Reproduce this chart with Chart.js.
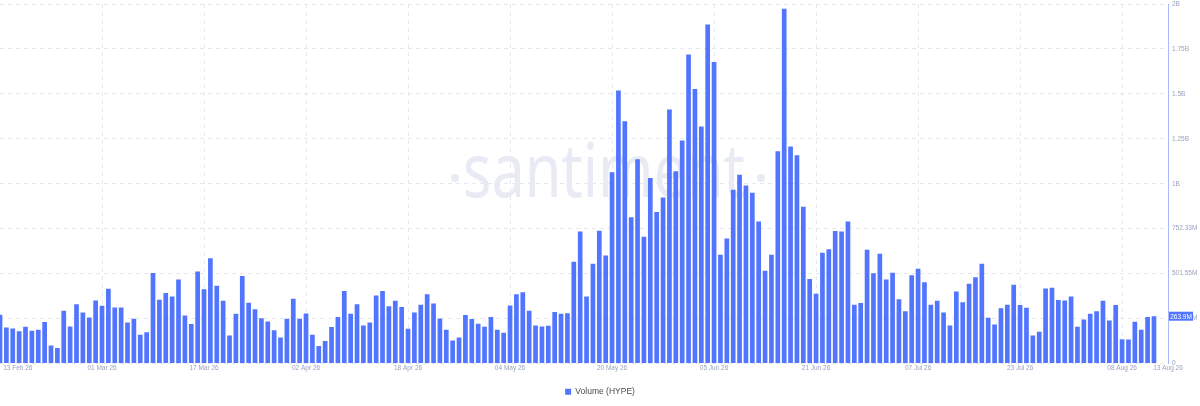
<!DOCTYPE html>
<html>
<head>
<meta charset="utf-8">
<title>Volume (HYPE)</title>
<script src="https://cdn.jsdelivr.net/npm/chart.js@4.4.1/dist/chart.umd.min.js"></script>
<style>
  html, body { margin: 0; padding: 0; background: #fff; }
  #wrap { width: 1200px; height: 406px; position: relative; }
</style>
</head>
<body>
<div id="wrap"><canvas id="volumeChart"></canvas></div>
<script>
// daily trading volume of HYPE in millions, one bar per day from 13 Feb 26 to 13 Aug 26
const volumeM = [
  272, 201, 195, 180, 205, 183, 188, 231, 100, 86,
  294, 207, 331, 285, 257, 352, 322, 417, 313, 313,
  229, 250, 160, 175, 505, 356, 393, 374, 469, 268,
  220, 514, 415, 587, 434, 350, 156, 278, 488, 339,
  303, 253, 235, 186, 145, 250, 361, 250, 279, 160,
  97, 125, 203, 259, 404, 278, 330, 212, 229, 380,
  404, 320, 350, 315, 194, 285, 328, 387, 335, 251,
  188, 128, 145, 270, 248, 222, 205, 259, 188, 171,
  324, 387, 397, 294, 212, 207, 210, 287, 278, 281,
  568, 737, 374, 557, 741, 603, 1067, 1523, 1352, 816,
  1140, 708, 1035, 845, 926, 1417, 1073, 1244, 1725, 1532,
  1322, 1892, 1682, 607, 697, 970, 1054, 993, 953, 793,
  518, 607, 1184, 1979, 1211, 1162, 875, 471, 389, 618,
  637, 739, 736, 793, 328, 337, 635, 503, 613, 469,
  506, 358, 292, 493, 529, 453, 328, 350, 285, 212,
  402, 342, 445, 482, 557, 255, 218, 309, 328, 440,
  326, 311, 156, 177, 419, 423, 354, 352, 374, 205,
  246, 278, 291, 350, 240, 326, 136, 134, 233, 188,
  259, 263.9
];

// x ticks: day offsets from 13 Feb 26 and their labels
const xTickDays = [0, 16, 32, 48, 64, 80, 96, 112, 128, 144, 160, 176, 181];
const xTickLabels = ['13 Feb 26', '01 Mar 26', '17 Mar 26', '02 Apr 26', '18 Apr 26', '04 May 26',
  '20 May 26', '05 Jun 26', '21 Jun 26', '07 Jul 26', '23 Jul 26', '08 Aug 26', '13 Aug 26'];

// y axis runs 0 .. 2006.2M in 8 equal steps
const yMaxM = 2006.2;
const yTickLabels = ['0', '250.78M', '501.55M', '752.33M', '1B', '1.25B', '1.5B', '1.75B', '2B'];

const barBlue = '#5275ff';
const gridGrey = '#e6e8ef';
const tickGrey = '#99a3bd';

const points = volumeM.map((v, i) => ({ x: i, y: v }));

// faint "santiment" mark behind the bars
const watermark = {
  id: 'watermark',
  beforeDatasetsDraw(chart) {
    const ctx = chart.ctx;
    ctx.save();
    ctx.fillStyle = '#e8eaf4';
    ctx.font = '75px "Noto Sans"';
    ctx.textBaseline = 'alphabetic';
    const w = ctx.measureText('santiment').width;
    const sx = 282 / w;
    ctx.translate(463, 197);
    ctx.scale(sx, 1);
    ctx.fillText('santiment', 0, 0);
    ctx.restore();
    ctx.save();
    ctx.fillStyle = '#e8eaf4';
    [455, 761].forEach(x => {
      ctx.beginPath();
      ctx.arc(x, 178, 4, 0, Math.PI * 2);
      ctx.fill();
    });
    ctx.restore();
  }
};

// highlighted last value on the right axis
const lastValueTag = {
  id: 'lastValueTag',
  afterDraw(chart) {
    const y = chart.scales.y;
    const v = volumeM[volumeM.length - 1];
    const py = y.getPixelForValue(v);
    const ctx = chart.ctx;
    ctx.save();
    ctx.fillStyle = barBlue;
    ctx.fillRect(y.left + 1, py - 4.5, 24, 9);
    ctx.fillStyle = '#ffffff';
    ctx.font = '6.5px "Liberation Sans"';
    ctx.textAlign = 'center';
    ctx.textBaseline = 'middle';
    ctx.fillText(v.toFixed(1) + 'M', y.left + 13, py + 0.5);
    ctx.restore();
  }
};

new Chart(document.getElementById('volumeChart'), {
  type: 'bar',
  data: {
    datasets: [{
      label: 'Volume (HYPE)',
      data: points,
      backgroundColor: barBlue,
      borderWidth: 0,
      barPercentage: 0.92,
      categoryPercentage: 0.8
    }]
  },
  options: {
    responsive: true,
    maintainAspectRatio: false,
    animation: false,
    layout: { padding: { left: 0, right: 0, top: 4, bottom: 0 } },
    scales: {
      x: {
        type: 'linear',
        offset: false,
        min: 0,
        max: 183.2,
        border: { display: false, dash: [4, 4] },
        grid: {
          offset: false,
          drawTicks: false,
          color: ctx => (ctx.index === 0 || ctx.index === xTickDays.length - 1) ? 'rgba(0,0,0,0)' : gridGrey
        },
        afterBuildTicks(scale) {
          scale.ticks = xTickDays.map(d => ({ value: d }));
          // keep the edge labels inside the plot like the original
          scale.ticks[0].value = 2.8;
          scale.ticks[scale.ticks.length - 1].value = scale.max;
        },
        afterFit(scale) { scale.height = 14; },
        ticks: {
          autoSkip: false,
          maxRotation: 0,
          padding: 1,
          color: tickGrey,
          font: { family: 'Liberation Sans', size: 6.5 },
          callback: (value, index) => xTickLabels[index]
        }
      },
      y: {
        type: 'linear',
        position: 'right',
        min: 0,
        max: yMaxM,
        border: { display: true, color: '#aab8ff', width: 1, dash: [4, 4] },
        grid: { drawTicks: false, color: gridGrey },
        afterBuildTicks(scale) {
          scale.ticks = yTickLabels.map((t, i) => ({ value: yMaxM * i / 8 }));
        },
        afterFit(scale) {
          scale.width = 32;
          scale.paddingTop = 0;
          scale.paddingBottom = 0;
        },
        ticks: {
          padding: 4,
          color: tickGrey,
          font: { family: 'Liberation Sans', size: 6.5 },
          callback: (value, index) => yTickLabels[index]
        }
      }
    },
    plugins: {
      legend: {
        position: 'bottom',
        labels: {
          boxWidth: 6,
          boxHeight: 6,
          padding: 10,
          color: '#4a4a4a',
          font: { family: 'Liberation Sans', size: 8.5 }
        }
      },
      tooltip: { enabled: false }
    }
  },
  plugins: [watermark, lastValueTag]
});
</script>
</body>
</html>
